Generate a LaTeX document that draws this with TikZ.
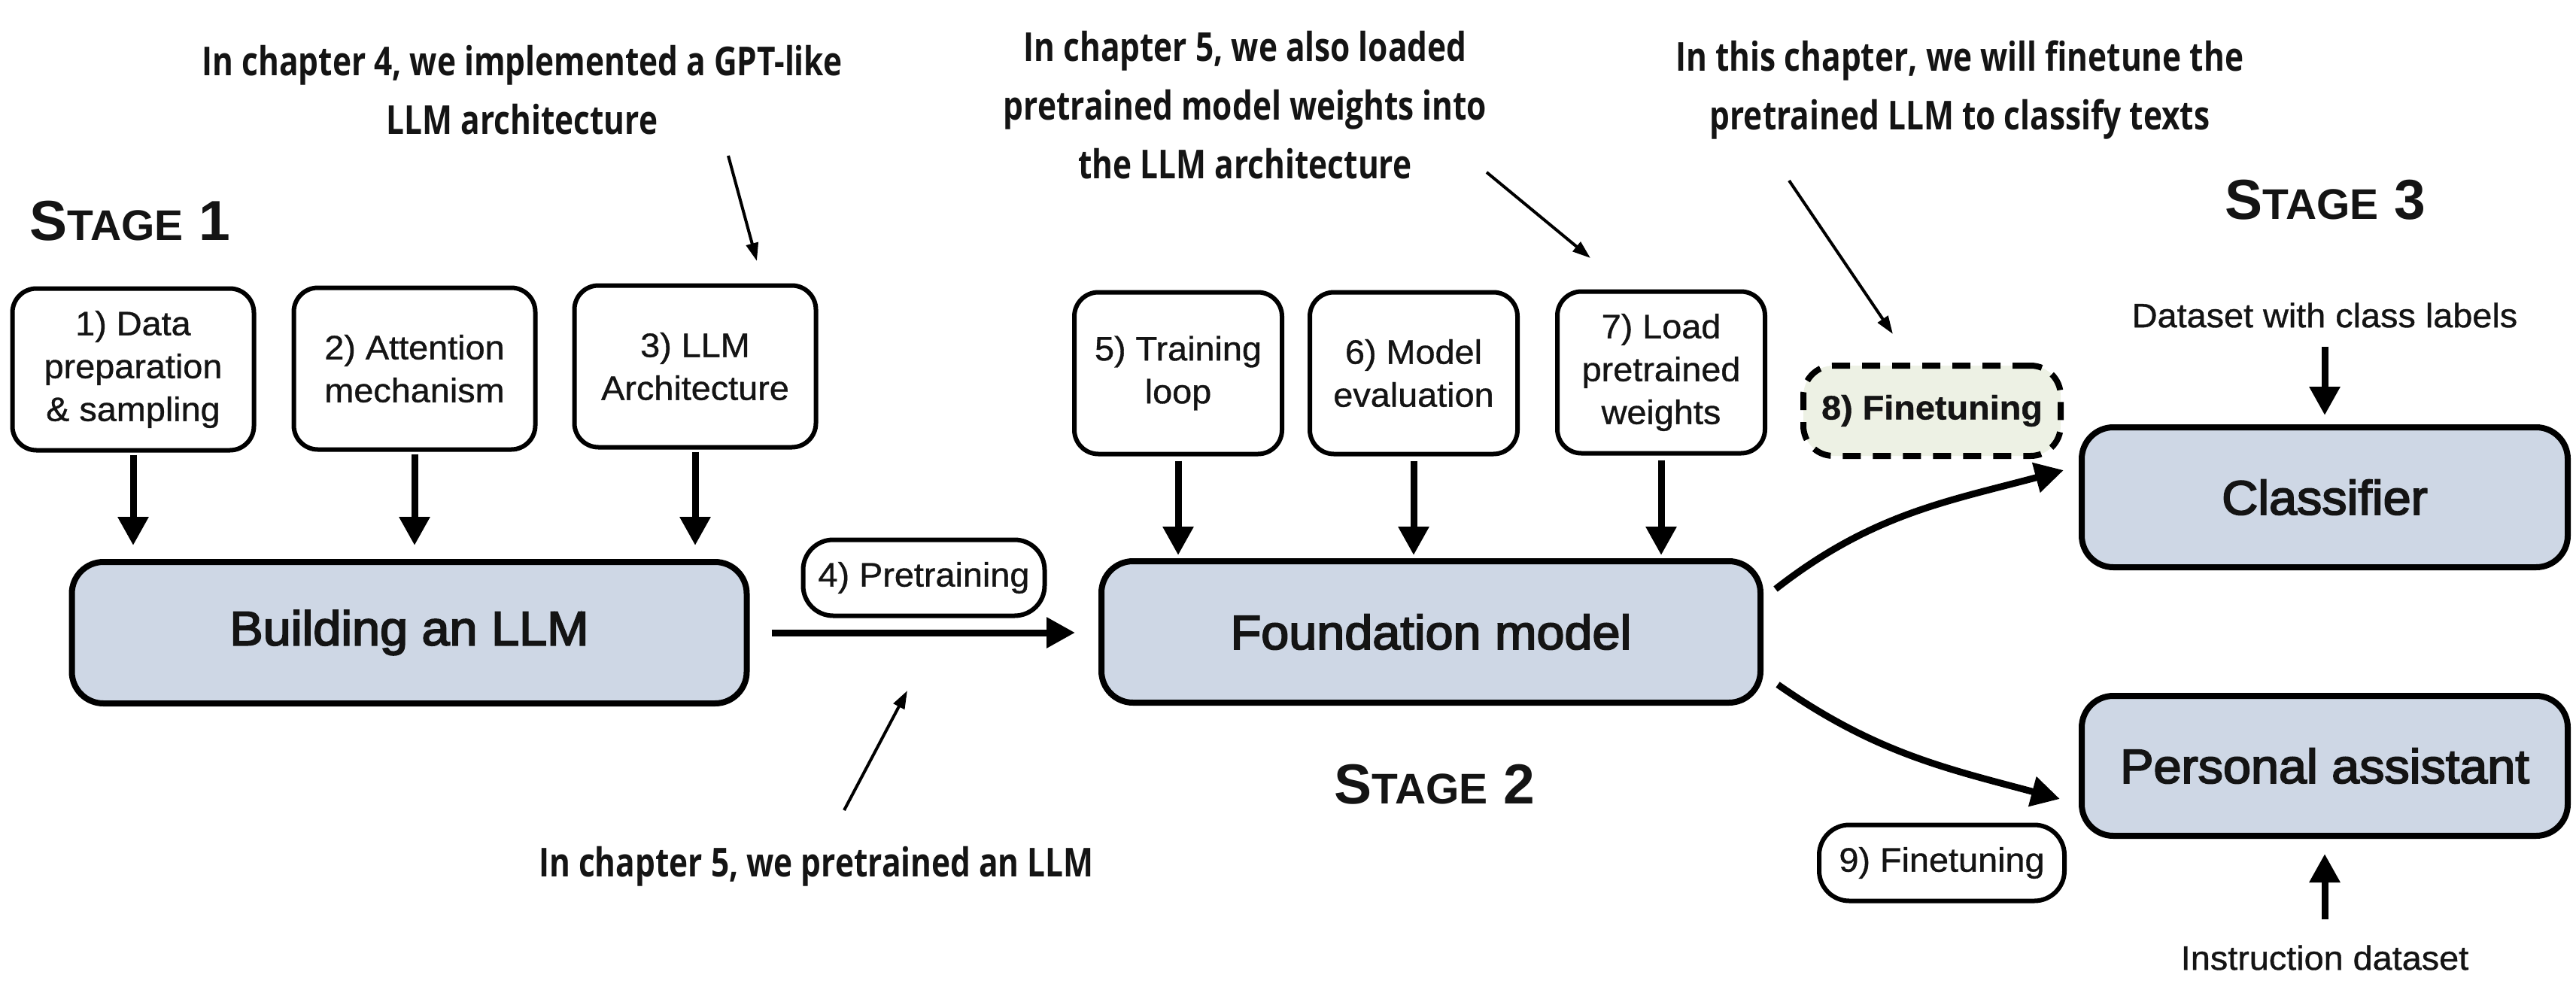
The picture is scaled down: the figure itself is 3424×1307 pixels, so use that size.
\documentclass[tikz,border=0pt]{standalone}
\usepackage{fontspec}
\usetikzlibrary{arrows.meta,calc}
\newfontfamily\boxfont{Liberation Sans}[FakeStretch=1.04,FakeBold=0.8]
\newfontfamily\medfont{Liberation Sans}[FakeStretch=1.04,FakeBold=3]
\newfontfamily\annfont{Open Sans}[FakeStretch=0.80]
\newfontfamily\stagefont{Liberation Sans}
\definecolor{boxblue}{RGB}{206,215,229}
\definecolor{dashgreen}{RGB}{237,241,228}
\definecolor{ink}{RGB}{20,20,20}
\newcommand{\stagelabel}[1]{{\fontsize{75}{75}\selectfont S\fontsize{57}{57}\selectfont TAGE\fontsize{75}{75}\selectfont\ #1}}
\tikzset{
 smallbox/.style={draw=black, line width=6pt, rounded corners=32pt, fill=white, minimum width=276pt, minimum height=215pt, inner sep=0pt, align=center, font={\boxfont\fontsize{45}{57}\selectfont}},
 pill/.style={draw=black, line width=6pt, rounded corners=40pt, fill=white, minimum width=321pt, minimum height=101pt, inner sep=0pt, font={\boxfont\fontsize{45}{57}\selectfont}},
 mainbox/.style={draw=black, line width=8pt, rounded corners=42pt, fill=boxblue, inner sep=0pt, font={\medfont\fontsize{64}{70}\selectfont}},
 dashbox/.style={draw=black, line width=8pt, dash pattern=on 24pt off 16pt, rounded corners=40pt, fill=dashgreen, minimum width=342pt, minimum height=120pt, inner sep=0pt, font={\boxfont\bfseries\fontsize{45}{57}\selectfont}},
 annot/.style={align=center, inner sep=0pt, font={\annfont\bfseries\fontsize{53}{78}\selectfont}},
 plain/.style={inner sep=0pt, font={\boxfont\fontsize{45}{57}\selectfont}},
 stage/.style={inner sep=0pt, font={\stagefont\bfseries}},
 bigarrow/.style={line width=9pt, -{Triangle[width=39pt,length=38pt]}},
 thinarrow/.style={line width=4pt, -{Triangle[width=16pt,length=24pt]}},
}
\begin{document}
\begin{tikzpicture}[x=1pt,y=-1pt, every node/.append style={text=ink}]
\path[fill=white] (0,0) rectangle (3424,1307);
\useasboundingbox (0,0) rectangle (3424,1307);

% stage 1
\node[smallbox, minimum width=321pt] (b1) at (177,491) {1) Data\\preparation\\\& sampling};
\node[smallbox, minimum width=321pt] (b2) at (551,490) {2) Attention\\mechanism};
\node[smallbox, minimum width=321pt] (b3) at (924,487) {3) LLM\\Architecture};
\node[mainbox, minimum width=897pt, minimum height=188pt] (build) at (544,841) {Building an LLM};
\node[stage] (s1) at (173,294) {\stagelabel{1}};

% stage 2
\node[pill] (pre) at (1228,768) {4) Pretraining};
\node[smallbox] (b5) at (1566,496) {5) Training\\loop};
\node[smallbox] (b6) at (1879,496) {6) Model\\evaluation};
\node[smallbox] (b7) at (2208,495) {7) Load\\pretrained\\weights};
\node[mainbox, minimum width=876pt, minimum height=188pt] (fm) at (1902,840) {Foundation model};
\node[stage] (s2) at (1907,1043) {\stagelabel{2}};

% stage 3
\node[dashbox] (ft8) at (2568,546) {8) Finetuning};
\node[mainbox, minimum width=646pt, minimum height=186pt] (cls) at (3090,661) {Classifier};
\node[mainbox, minimum width=646pt, minimum height=186pt] (pa) at (3090,1018) {Personal assistant};
\node[pill, minimum width=326pt] (ft9) at (2581,1147) {9) Finetuning};
\node[plain] (dcl) at (3090,419) {Dataset with class labels};
\node[plain] (ids) at (3090,1273) {Instruction dataset};
\node[stage] (s3) at (3091,266) {\stagelabel{3}};

% annotations
\node[annot] (a1) at (694,120) {In chapter 4, we implemented a GPT-like\\LLM architecture};
\node[annot] (a2) at (1655,140) {In chapter 5, we also loaded\\pretrained model weights into\\the LLM architecture};
\node[annot] (a3) at (2605,120) {In this chapter, we will finetune the\\pretrained LLM to classify texts};
\node[annot] (a4) at (1085,1152) {In chapter 5, we pretrained an LLM};

\coordinate (a1s) at (968,207);   \coordinate (a1e) at (1006,347);
\coordinate (a2s) at (1976,229);  \coordinate (a2e) at (2114,343);
\coordinate (a3s) at (2378,240);  \coordinate (a3e) at (2516,444);
\coordinate (a4s) at (1122,1077); \coordinate (a4e) at (1206,918);
\draw[thinarrow] (a1s) -- (a1e);
\draw[thinarrow] (a2s) -- (a2e);
\draw[thinarrow] (a3s) -- (a3e);
\draw[thinarrow] (a4s) -- (a4e);

% connectors
\foreach \b in {b1,b2,b3}
  \draw[bigarrow, shorten <=3pt, shorten >=18pt] (\b.south) -- (\b.south |- build.north);
\foreach \b in {b5,b6,b7}
  \draw[bigarrow, shorten <=6pt, shorten >=4pt] (\b.south) -- (\b.south |- fm.north);
\draw[bigarrow, shorten <=29pt, shorten >=31pt] (build.east) -- (build.east -| fm.west);
\draw[bigarrow] ($(fm.north east)+(16,41)$) to[out=38,in=195] ($(cls.west)+(-20,-36)$);
\draw[bigarrow] ($(fm.south east)+(19,-28)$) to[out=-35,in=165] ($(pa.west)+(-25,44)$);
\draw[bigarrow, shorten <=25pt, shorten >=12pt] (dcl.south) -- (cls.north);
\draw[bigarrow, shorten <=34pt, shorten >=20pt] (ids.north) -- (pa.south);
\end{tikzpicture}
\end{document}
